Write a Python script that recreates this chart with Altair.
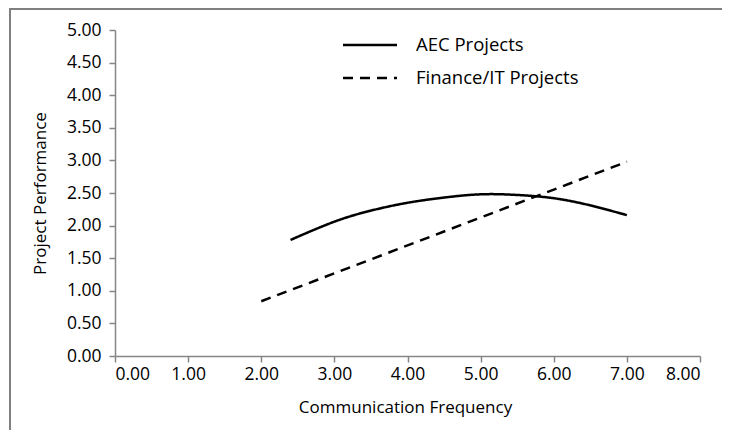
import altair as alt
import pandas as pd

# Data
aec_x = [2.4, 3.0, 3.5, 4.0, 4.5, 5.0, 5.5, 6.0, 6.5, 7.0]
aec_y = [1.78, 2.06, 2.23, 2.35, 2.43, 2.48, 2.47, 2.42, 2.31, 2.16]
fin_x = [2.0, 7.0]
fin_y = [0.84, 2.98]
series_names = ["AEC Projects", "Finance/IT Projects"]
x_ticks = [0, 1, 2, 3, 4, 5, 6, 7, 8]
y_ticks = [0, 0.5, 1, 1.5, 2, 2.5, 3, 3.5, 4, 4.5, 5]

df = pd.concat([
    pd.DataFrame({"x": aec_x, "y": aec_y, "series": series_names[0]}),
    pd.DataFrame({"x": fin_x, "y": fin_y, "series": series_names[1]}),
])

FONT = "Open Sans"

lines = alt.Chart(df).mark_line(color="black", strokeWidth=2.5, interpolate="natural").encode(
    x=alt.X("x:Q", scale=alt.Scale(domain=[0, 8], nice=False),
            axis=alt.Axis(values=x_ticks, format=".2f", title="Communication Frequency",
                          titleX=290, titleY=51, titleBaseline="middle", titleAlign="center",
                          labelPadding=3)),
    y=alt.Y("y:Q", scale=alt.Scale(domain=[0, 5], nice=False),
            axis=alt.Axis(values=y_ticks, format=".2f", title="Project Performance",
                          titleX=-75, titleY=163, titleAngle=270, titleBaseline="middle",
                          titleAlign="center", labelPadding=8)),
    strokeDash=alt.StrokeDash("series:N",
                              scale=alt.Scale(domain=series_names, range=[[1, 0], [10, 7]]),
                              legend=alt.Legend(title=None, orient="none", legendX=240, legendY=0,
                                                symbolType="M-2,0L2,0", symbolSize=729,
                                                symbolStrokeWidth=2.5, symbolStrokeColor="black",
                                                labelFontSize=18.5, labelFont=FONT, labelColor="black",
                                                labelLimit=400, labelOffset=31, rowPadding=8)),
    detail="series:N",
)

frame_df = pd.DataFrame({"a": [0]})
frame_left = alt.Chart(frame_df).mark_rule(color="#7f7f7f", strokeWidth=2).encode(
    x=alt.value(-105), y=alt.value(-21), y2=alt.value(420))
frame_top = alt.Chart(frame_df).mark_rule(color="#7f7f7f", strokeWidth=2).encode(
    x=alt.value(-106), x2=alt.value(620), y=alt.value(-21))

chart = alt.layer(frame_left, frame_top, lines).properties(
    width=585, height=326,
    autosize=alt.AutoSizeParams(type="none"),
    padding={"left": 107, "top": 22, "right": 22, "bottom": 74},
).configure_view(stroke=None).configure_axis(
    grid=False, domainColor="#868686", tickColor="#868686", domainWidth=1.5, tickWidth=1.5,
    tickSize=6, labelFont=FONT, labelFontSize=17.5, labelColor="black",
    titleFont=FONT, titleFontSize=17, titleFontWeight="normal", titleColor="black",
)

chart.save("out.html", embed_options={"renderer": "svg", "actions": False})
